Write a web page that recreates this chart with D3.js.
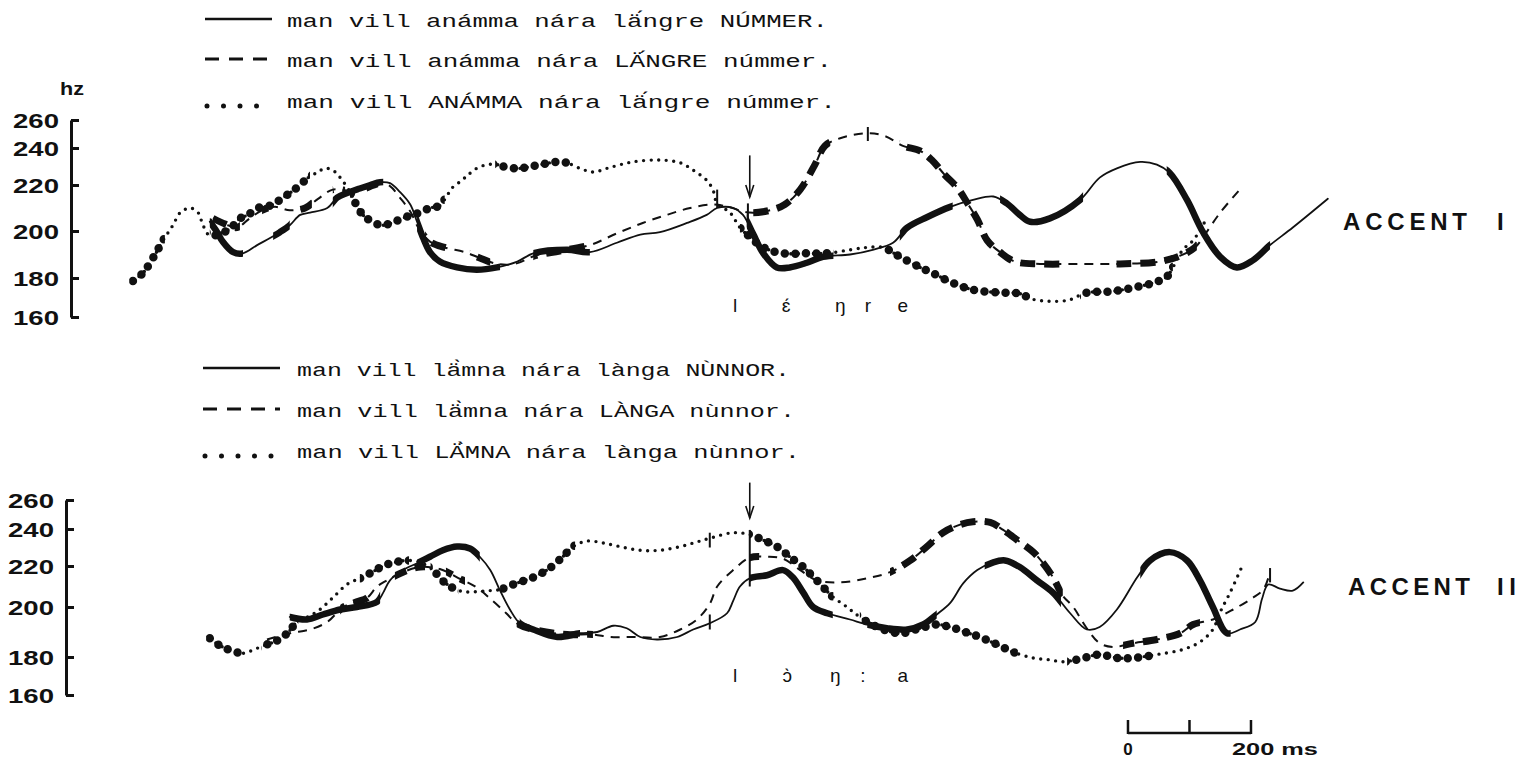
<!DOCTYPE html>
<html><head><meta charset="utf-8">
<script src="https://cdn.jsdelivr.net/npm/d3@7"></script>
<style>
html,body{margin:0;padding:0;background:#fff;}
svg{display:block;}
</style></head>
<body>
<svg id="chart" width="1522" height="758"></svg>
<script>
// ---------------- DATA ----------------
const hzTicks = [160, 180, 200, 220, 240, 260];

// Legend sentences
const legendTop = ["man vill anámma nára lä́ngre NÚMMER.", "man vill anámma nára LÄ́NGRE númmer.", "man vill ANÁMMA nára lä́ngre númmer."];
const legendBottom = ["man vill lä̀mna nára lànga NÙNNOR.", "man vill lä̀mna nára LÀNGA nùnnor.", "man vill LÄ̀MNA nára lànga nùnnor."];
const panelLabels = ["ACCENT", "ACCENT"];
const panelNumerals = ["I", "II"];

// ACCENT I — [ms, Hz]
const accent1Solid = [[146,204],[158,199.5],[167,195.5],[184,191],[200,190.5],[223,194],[244,197],[260,199.5],[276,202.5],[293,207],[309,208],[337,210],[353,214.5],[369,216.5],[390,218.5],[407,220],[423,221.5],[439,221],[455,217],[472,211.5],[483,204],[493,197],[504,191],[520,187],[548,184.5],[580,183.5],[613,184.5],[646,187],[672,190.5],[727,192],[764,191],[808,195],[846,198.5],[878,199.5],[922,203.5],[954,207],[971,210],[997,210],[1013,207],[1029,199],[1046,190.5],[1068,184.5],[1089,184.5],[1117,186.5],[1143,189],[1187,190],[1224,192],[1257,195],[1280,201.5],[1312,206],[1350,210.5],[1387,213.5],[1420,215],[1442,212],[1463,207],[1480,204],[1512,205.5],[1561,213.5],[1593,224],[1621,229],[1659,232.5],[1686,231],[1707,226.5],[1735,213.5],[1761,199.5],[1789,189],[1816,184.5],[1842,187.5],[1870,194],[1907,201.5],[1964,214]];
const accent1Dashed = [[151,205.5],[171,203],[190,201.5],[211,205.5],[231,209],[252,210.5],[276,209],[301,210],[322,214],[346,218],[374,217.5],[398,218.5],[423,221],[439,219.5],[455,214.5],[472,208.5],[485,201.5],[504,195.5],[528,193],[561,191],[585,188.5],[613,186],[642,186],[675,189.5],[715,191.5],[764,194],[808,199],[850,203.5],[889,207],[927,210],[964,211.5],[989,210.5],[1024,208],[1057,209],[1081,211.5],[1106,218],[1130,231],[1146,241.5],[1171,247],[1215,250.5],[1244,248.5],[1273,241.5],[1301,238.5],[1320,233.5],[1341,225.5],[1361,219],[1377,212.5],[1394,205],[1410,196],[1431,191],[1455,187],[1496,186],[1561,186],[1626,186],[1691,187],[1724,189.5],[1748,193],[1764,198.5],[1789,208],[1824,219]];
const accent1Dotted = [[21,178.5],[37,182],[57,190],[70,196],[86,202.5],[98,208],[114,210],[127,208],[135,202.5],[146,198],[163,199],[179,201],[195,205.5],[208,207],[224,210],[244,211],[260,213.5],[276,216.5],[293,220],[306,224],[322,227],[333,229],[346,228],[358,224],[374,217],[385,211],[395,207],[410,204],[426,202.5],[442,203.5],[459,205.5],[475,207],[488,208],[504,210],[520,211],[532,215.5],[541,219],[556,222.5],[566,225.5],[580,229],[597,231],[613,231],[629,229.5],[650,229],[683,231],[720,232.5],[748,229],[769,227],[797,229.5],[834,232.5],[878,233.5],[911,232],[932,228],[954,222.5],[964,218],[971,212],[992,208],[1008,201.5],[1024,197.5],[1046,193],[1078,190.5],[1117,190.5],[1150,190.5],[1187,192],[1215,193],[1241,193],[1268,189],[1301,184.5],[1322,182],[1354,177.5],[1387,174],[1431,172.5],[1463,172],[1485,169],[1540,168.5],[1572,172.5],[1610,173],[1647,175],[1680,177.5],[1702,180.5],[1712,184.5],[1728,192],[1745,196],[1764,204]];
// stressed (heavy-drawn) stretches, [fromMs, toMs]
const accent1SolidHeavy = [[146,200],[249,276],[346,428],[483,618],[672,764],[1019,1160],[1268,1354],[1431,1566],[1702,1870]];
const accent1DashedHeavy = [[151,195],[231,252],[285,312],[346,366],[390,420],[496,537],[569,602],[672,764],[1021,1155],[1268,1540],[1620,1751]];
const accent1DottedHeavy = [[15,73],[146,309],[374,528],[610,732],[1008,1160],[1241,1480],[1561,1712]];

// ACCENT II — [ms, Hz]
const accent2Solid = [[276,196],[304,195],[330,197],[358,199],[385,200],[418,202.5],[428,207],[439,213],[460,218],[483,221.5],[504,225],[525,228.5],[548,230.5],[569,229.5],[585,225],[602,218],[618,208],[634,199],[650,193.5],[672,191],[711,188],[748,189.5],[776,190],[802,192.5],[824,191.5],[846,188],[873,187],[906,188],[932,191],[959,193.5],[987,197.5],[997,203],[1008,210],[1024,214],[1052,215.5],[1078,218],[1094,214.5],[1111,207],[1127,200],[1150,197.5],[1187,195],[1215,193],[1247,191.5],[1280,191],[1306,193],[1328,197],[1350,202],[1371,211.5],[1394,218],[1420,222],[1439,223],[1463,219.5],[1491,213],[1517,207],[1545,197.5],[1572,191],[1593,192],[1621,199],[1654,214.5],[1675,223],[1707,227.5],[1735,223],[1756,213],[1777,200],[1800,189.5],[1821,191],[1846,194],[1857,204],[1867,211],[1886,209],[1907,208],[1924,212]];
const accent2Dashed = [[239,187],[276,189.5],[309,191],[337,194],[363,200],[385,202.5],[402,204.5],[418,210],[434,213],[460,217],[488,219.5],[520,218.5],[548,214.5],[580,209.5],[606,203],[628,197.5],[645,193.5],[672,191],[727,189],[769,189],[797,188],[834,188],[878,188],[911,191],[938,195],[959,201.5],[971,210],[997,218],[1024,224.5],[1052,225],[1078,224],[1106,218],[1133,213],[1171,212],[1215,214],[1252,217],[1285,223],[1312,230.5],[1338,238],[1366,243],[1387,245],[1415,244.5],[1436,239.5],[1459,234],[1485,227.5],[1501,221.5],[1517,214.5],[1533,205.5],[1550,200],[1572,191.5],[1593,185.5],[1615,184],[1647,185.5],[1686,187],[1724,189.5],[1745,193],[1777,195],[1810,199],[1842,204.5],[1859,208.5],[1867,214]];
const accent2Dotted = [[146,187.5],[163,184.5],[182,182.5],[200,181.5],[223,183.5],[239,185],[255,186.5],[272,189.5],[288,194],[309,196.5],[325,199],[346,204.5],[369,211],[390,214],[410,217],[428,220],[447,222],[467,223],[488,222],[509,218],[524,213],[540,209.5],[558,207.5],[580,207.5],[602,208],[618,208.5],[639,211],[672,214.5],[699,219],[720,225],[737,230.5],[759,233.5],[785,232.5],[813,230.5],[846,228.5],[878,228.5],[911,230.5],[938,233],[964,235.5],[997,238],[1024,237],[1046,234],[1068,230.5],[1089,225],[1111,219.5],[1133,213],[1159,205],[1182,200],[1203,196],[1231,192],[1268,189.5],[1301,191.5],[1328,193],[1350,192],[1374,190],[1398,188],[1426,185],[1452,182],[1485,179.5],[1512,178.5],[1533,177.5],[1561,179],[1593,181],[1621,179.5],[1647,179.5],[1686,181],[1728,183],[1756,186],[1777,191],[1789,198],[1805,207],[1824,219.5]];
const accent2SolidHeavy = [[276,423],[483,585],[650,748],[1024,1159],[1215,1328],[1406,1530],[1659,1806]];
const accent2DashedHeavy = [[358,407],[447,496],[530,561],[645,769],[1024,1050],[1252,1533],[1631,1756]];
const accent2DottedHeavy = [[140,200],[230,290],[390,470],[505,550],[618,740],[1024,1160],[1203,1460],[1540,1680]];

// segment boundary marks [ms, HzFrom, HzTo]
const accent1Marks = [[1216,245,255],[1021,204,212],[971,210,218]];
const accent2Marks = [[1024,210,239.5],[959,230,238],[959,191,197],[1870,212,219]];
// line-up arrows [ms, HzTop, HzTip]
const accent1Arrow = [1024, 236, 214.8];
const accent2Arrow = [1024, 272, 247.6];
// phonetic transcription [symbol, ms]
const phon1 = [["l",1000],["ɛ́",1083],["ŋ",1171],["r",1216],["e",1273]];
const phon2 = [["l",1000],["ɔ̀",1085],["ŋ",1163],[":",1208],["a",1273]];
// time scale bar
const scaleBarStartMs = 1639;
const scaleBarTicks = [0, 100, 200];

// ---------------- DRAW ----------------
const svg = d3.select("#chart");
const ink = "#111";
const x = d3.scaleLinear().domain([0, 2000]).range([120, 1350]);
const yTop = d3.scaleLinear().domain(hzTicks).range([317, 278, 231, 185, 148, 120]);
const yBot = d3.scaleLinear().domain(hzTicks).range([695, 657, 607, 566, 529, 500]);

const defs = svg.append("defs");
const styles = {
  solid:  {base:{w:1.8, dash:null, cap:"round"}, heavy:{w:6.5, dash:null, cap:"round"}},
  dashed: {base:{w:2, dash:"9,7", cap:"butt"}, heavy:{w:7, dash:"15,9", cap:"butt"}},
  dotted: {base:{w:3.4, dash:"0,7.5", cap:"round"}, heavy:{w:8.5, dash:"0,10.5", cap:"round"}}
};
let clipN = 0;
function drawSeries(y, pts, heavy, kind) {
  const line = d3.line().x(d => x(d[0])).y(d => y(d[1])).curve(d3.curveCatmullRom.alpha(0.5));
  const st = styles[kind];
  svg.append("path").attr("d", line(pts)).attr("fill", "none").attr("stroke", ink)
    .attr("stroke-width", st.base.w).attr("stroke-dasharray", st.base.dash)
    .attr("stroke-linecap", st.base.cap).attr("stroke-linejoin", "round");
  const id = "clip" + (clipN++);
  const cp = defs.append("clipPath").attr("id", id);
  heavy.forEach(h => cp.append("rect").attr("x", x(h[0])).attr("width", x(h[1]) - x(h[0]))
    .attr("y", 0).attr("height", 758));
  svg.append("path").attr("d", line(pts)).attr("fill", "none").attr("stroke", ink)
    .attr("stroke-width", st.heavy.w).attr("stroke-dasharray", st.heavy.dash)
    .attr("stroke-linecap", st.heavy.cap).attr("stroke-linejoin", "round")
    .attr("clip-path", `url(#${id})`);
}

function drawAxis(y, xPos) {
  const ax = d3.axisLeft(y).tickValues(hzTicks).tickSize(-8).tickSizeOuter(0).tickPadding(12).tickFormat(d3.format("d"));
  const g = svg.append("g").attr("transform", `translate(${xPos},0)`).call(ax);
  g.select(".domain").attr("stroke", ink).attr("stroke-width", 3);
  g.selectAll(".tick line").attr("stroke", ink).attr("stroke-width", 3);
  g.selectAll(".tick text").attr("fill", ink).attr("font-family", "Liberation Sans, Arial, sans-serif")
    .attr("font-weight", "bold").attr("font-size", 20).attr("textLength", 46)
    .attr("lengthAdjust", "spacingAndGlyphs").attr("dy", "0.36em");
}

function drawMarks(y, marks) {
  marks.forEach(m => svg.append("line").attr("x1", x(m[0])).attr("x2", x(m[0]))
    .attr("y1", y(m[1])).attr("y2", y(m[2])).attr("stroke", ink).attr("stroke-width", 2));
}
function drawArrow(y, a) {
  const xx = x(a[0]), y0 = y(a[1]), y1 = y(a[2]);
  svg.append("line").attr("x1", xx).attr("x2", xx).attr("y1", y0).attr("y2", y1)
    .attr("stroke", ink).attr("stroke-width", 1.6);
  svg.append("path").attr("d", `M${xx-4},${y1-12}L${xx},${y1}L${xx+4},${y1-12}`)
    .attr("fill", "none").attr("stroke", ink).attr("stroke-width", 1.6);
}
function drawPhon(list, yy) {
  list.forEach(p => svg.append("text").attr("x", x(p[1])).attr("y", yy).attr("text-anchor", "middle")
    .attr("font-family", "Liberation Sans, Arial, sans-serif").attr("font-size", 19).attr("fill", ink).text(p[0]));
}
function legend(lines, x0, x1, xt, ys, txtLen) {
  const ids = ["solid", "dashed", "dotted"];
  lines.forEach((t, i) => {
    const yy = ys[i];
    if (ids[i] === "solid") {
      svg.append("line").attr("x1", x0).attr("x2", x1).attr("y1", yy - 8).attr("y2", yy - 8)
        .attr("stroke", ink).attr("stroke-width", 2.5);
    } else if (ids[i] === "dashed") {
      svg.append("line").attr("x1", x0).attr("x2", x1).attr("y1", yy - 8).attr("y2", yy - 8)
        .attr("stroke", ink).attr("stroke-width", 3).attr("stroke-dasharray", "14,10");
    } else {
      svg.append("line").attr("x1", x0 + 2).attr("x2", x1).attr("y1", yy - 2).attr("y2", yy - 2)
        .attr("stroke", ink).attr("stroke-width", 5).attr("stroke-linecap", "round")
        .attr("stroke-dasharray", "0,16.5");
    }
    svg.append("text").attr("x", xt).attr("y", yy).attr("font-family", "Liberation Mono, monospace")
      .attr("font-size", 19).attr("fill", ink).attr("textLength", txtLen[i])
      .attr("lengthAdjust", "spacingAndGlyphs").text(t);
  });
}

// legends
legend(legendTop, 205, 272, 287, [27, 67, 108], [541, 545, 549]);
legend(legendBottom, 203, 280, 297, [376, 417, 458], [493, 498, 503]);

// axes
drawAxis(yTop, 71);
drawAxis(yBot, 66);
svg.append("text").attr("x", 60).attr("y", 95).attr("font-family", "Liberation Sans, Arial, sans-serif")
  .attr("font-weight", "bold").attr("font-size", 19).attr("textLength", 24)
  .attr("lengthAdjust", "spacingAndGlyphs").attr("fill", ink).text("hz");

// curves
drawSeries(yTop, accent1Dotted, accent1DottedHeavy, "dotted");
drawSeries(yTop, accent1Dashed, accent1DashedHeavy, "dashed");
drawSeries(yTop, accent1Solid, accent1SolidHeavy, "solid");
drawSeries(yBot, accent2Dotted, accent2DottedHeavy, "dotted");
drawSeries(yBot, accent2Dashed, accent2DashedHeavy, "dashed");
drawSeries(yBot, accent2Solid, accent2SolidHeavy, "solid");

drawMarks(yTop, accent1Marks);
drawMarks(yBot, accent2Marks);
drawArrow(yTop, accent1Arrow);
drawArrow(yBot, accent2Arrow);
drawPhon(phon1, 312);
drawPhon(phon2, 682);

// panel labels
[[panelLabels[0], panelNumerals[0], 1343, 1497, 230, 124, 6], [panelLabels[1], panelNumerals[1], 1348, 1497, 595, 122, 19]]
.forEach(p => {
  svg.append("text").attr("x", p[2]).attr("y", p[4]).attr("font-family", "Liberation Sans, Arial, sans-serif")
    .attr("font-weight", "bold").attr("font-size", 24).attr("fill", ink)
    .attr("textLength", p[5]).attr("lengthAdjust", "spacing").text(p[0]);
  svg.append("text").attr("x", p[3]).attr("y", p[4]).attr("font-family", "Liberation Sans, Arial, sans-serif")
    .attr("font-weight", "bold").attr("font-size", 24).attr("fill", ink)
    .attr("textLength", p[6]).attr("lengthAdjust", "spacing").text(p[1]);
});

// scale bar
const sbY = 733;
const sb = svg.append("g");
sb.append("line").attr("x1", x(scaleBarStartMs)).attr("x2", x(scaleBarStartMs + 200))
  .attr("y1", sbY).attr("y2", sbY).attr("stroke", ink).attr("stroke-width", 2.5);
scaleBarTicks.forEach(t => sb.append("line").attr("x1", x(scaleBarStartMs + t)).attr("x2", x(scaleBarStartMs + t))
  .attr("y1", sbY - 13).attr("y2", sbY + 1).attr("stroke", ink).attr("stroke-width", 2.5));
sb.append("text").attr("x", x(scaleBarStartMs)).attr("y", 755).attr("text-anchor", "middle")
  .attr("font-family", "Liberation Sans, Arial, sans-serif").attr("font-weight", "bold").attr("font-size", 17)
  .attr("fill", ink).text("0");
sb.append("text").attr("x", x(scaleBarStartMs + 200) - 19).attr("y", 755)
  .attr("font-family", "Liberation Sans, Arial, sans-serif").attr("font-weight", "bold").attr("font-size", 17)
  .attr("fill", ink).attr("textLength", 86).attr("lengthAdjust", "spacingAndGlyphs").text("200 ms");
</script>
</body></html>
